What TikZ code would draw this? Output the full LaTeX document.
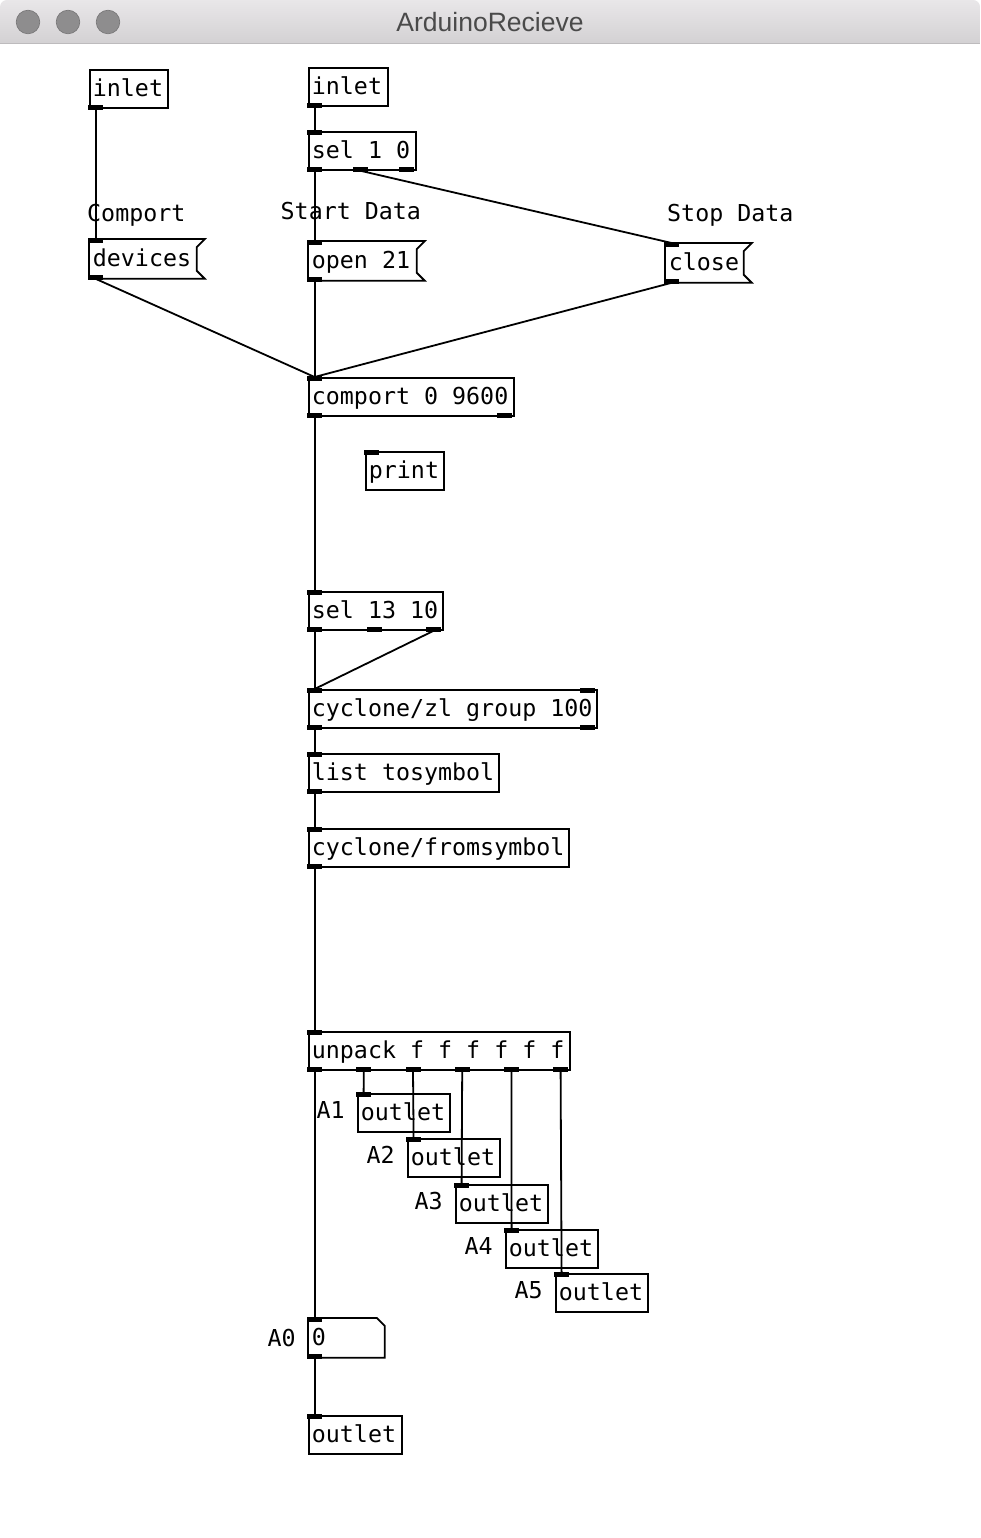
\documentclass[tikz,border=0pt]{standalone}
\usepackage{fontspec}
\usepackage{xcolor}
\usepackage{tikz}
\usetikzlibrary{calc}
\newfontfamily\pdmono{DejaVu Sans Mono}
\newfontfamily\wintitle{Liberation Sans}
\definecolor{ink}{HTML}{000000}
\definecolor{bartop}{HTML}{E9E7E9}
\definecolor{barbot}{HTML}{D3D1D3}
\definecolor{barline}{HTML}{BDBBBD}
\definecolor{knob}{HTML}{8E8D8E}
\definecolor{knobrim}{HTML}{777677}
\definecolor{titletext}{HTML}{4A4A4A}
\newcommand{\pdfont}{\pdmono\fontsize{23.3}{27}\selectfont}
\tikzset{
  obj/.style={draw=ink, line width=1.8pt, rectangle, anchor=north west, inner xsep=3pt, inner ysep=0pt,
    minimum height=38pt, text height=18pt, text depth=2pt, align=flush left, font=\pdfont,
    execute at begin node={\hbox\bgroup}, execute at end node={\egroup}},
  msg/.style={obj, draw=none},
  num/.style={obj, draw=none},
  flag/.style={draw=ink, line width=1.8pt, line join=miter},
  wire/.style={draw=ink, line width=1.8pt},
  nub/.style={fill=ink},
  cmt/.style={anchor=base west, inner sep=0pt, font=\pdfont},
  wtitle/.style={anchor=base, inner sep=0pt, text=titletext, font=\wintitle\fontsize{26.5}{30}\selectfont},
}

\begin{document}
\begin{tikzpicture}[x=1pt, y=-1pt]
  \useasboundingbox (0,0) rectangle (980,1538);
  \fill[white] (0,0) rectangle (980,1538);
  \shade[top color=bartop, bottom color=barbot]
    (0,44) [rounded corners=7pt] -- (0,0) -- (980,0) [sharp corners] -- (980,44) -- cycle;
  \draw[barline, line width=1.5pt] (0,43.5) -- (980,43.5);
  \foreach \x in {28,68,108}
    \draw[knobrim, fill=knob, line width=0.6pt] (\x,22) circle (11.8pt);
  \node[wtitle] (title) at (490,32) {ArduinoRecieve};

  \node[obj, text width=72pt] (inL) at (89,69) {inlet};
  \node[obj, text width=73pt] (inR) at (308,67) {inlet};
  \node[obj, text width=101pt] (selOn) at (308,131) {sel 1 0};
  \node[cmt] (lblComport) at (87,222) {Comport};
  \node[cmt] (lblStart) at (280.5,220) {Start Data};
  \node[cmt] (lblStop) at (667,222) {Stop Data};
  \node[msg, text width=100pt] (devices) at (89,239) {devices};
  \node[msg, text width=101pt] (open) at (308,241) {open 21};
  \node[msg, text width=71pt] (close) at (665,243) {close};
  \node[obj, text width=199pt] (comport) at (308,377) {comport 0 9600};
  \node[obj, text width=72pt] (print) at (365,451) {print};
  \node[obj, text width=128pt] (selEnd) at (308,591) {sel 13 10};
  \node[obj, text width=282pt] (group) at (308,689) {cyclone/zl group 100};
  \node[obj, text width=184pt] (tosym) at (308,753) {list tosymbol};
  \node[obj, text width=254pt] (fromsym) at (308,828) {cyclone/fromsymbol};
  \node[obj, text width=255pt] (unpack) at (308,1031) {unpack f f f f f f};
  \foreach \k/\x/\y in {1/357/1093, 2/407/1138, 3/455/1184, 4/505/1229, 5/555/1273} {
    \node[obj, text width=86pt] (outA\k) at (\x,\y) {outlet};
    \node[cmt] (lblA\k) at (\x-40.5,\y+25) {A\k};
  }
  \node[num, text width=69pt] (numA0) at (308,1318) {0};
  \node[cmt] (lblA0) at (267.5,1346) {A0};
  \node[obj, text width=87pt] (outA0) at (308,1415) {outlet};

  \foreach \m in {devices,open,close}
    \draw[flag] (\m.north west) -- ([xshift=8pt]\m.north east) -- ([yshift=-8pt]\m.north east)
      -- ([yshift=8pt]\m.south east) -- ([xshift=8pt]\m.south east) -- (\m.south west) -- cycle;
  \draw[flag] (numA0.north west) -- ([xshift=-8pt]numA0.north east) -- ([yshift=-8pt]numA0.north east)
    -- (numA0.south east) -- (numA0.south west) -- cycle;

  \foreach \n/\o in {selOn/0, devices/0, open/0, close/0, comport/0, print/0, selEnd/0, group/0, group/273,
      tosym/0, fromsym/0, unpack/0, outA1/0, outA2/0, outA3/0, outA4/0, outA5/0, numA0/0, outA0/0}
    \fill[nub] ([shift={(\o-0.9,-0.9)}]\n.north west) rectangle ++(15,5);
  \foreach \n/\o in {inL/0, inR/0, selOn/0, selOn/46, selOn/92, devices/0, open/0, close/0, comport/0, comport/190,
      selEnd/0, selEnd/59.5, selEnd/119, group/0, group/273, tosym/0, fromsym/0, unpack/0, unpack/49.2,
      unpack/98.4, unpack/147.6, unpack/196.8, unpack/246, numA0/0}
    \fill[nub] ([shift={(\o-0.9,0.9)}]\n.south west) rectangle ++(15,-5);

  \foreach \a/\i/\b/\j in {inL/0/devices/0, inR/0/selOn/0, selOn/0/open/0, selOn/46/close/0,
      devices/0/comport/0, open/0/comport/0, close/0/comport/0, comport/0/selEnd/0,
      selEnd/0/group/0, selEnd/119/group/0, group/0/tosym/0, tosym/0/fromsym/0, fromsym/0/unpack/0,
      unpack/0/numA0/0, unpack/49.2/outA1/0, unpack/98.4/outA2/0, unpack/147.6/outA3/0,
      unpack/196.8/outA4/0, unpack/246/outA5/0, numA0/0/outA0/0}
    \draw[wire] ([xshift={\i+6.6}]\a.south west) -- ([xshift={\j+6.6}]\b.north west);
\end{tikzpicture}
\end{document}
